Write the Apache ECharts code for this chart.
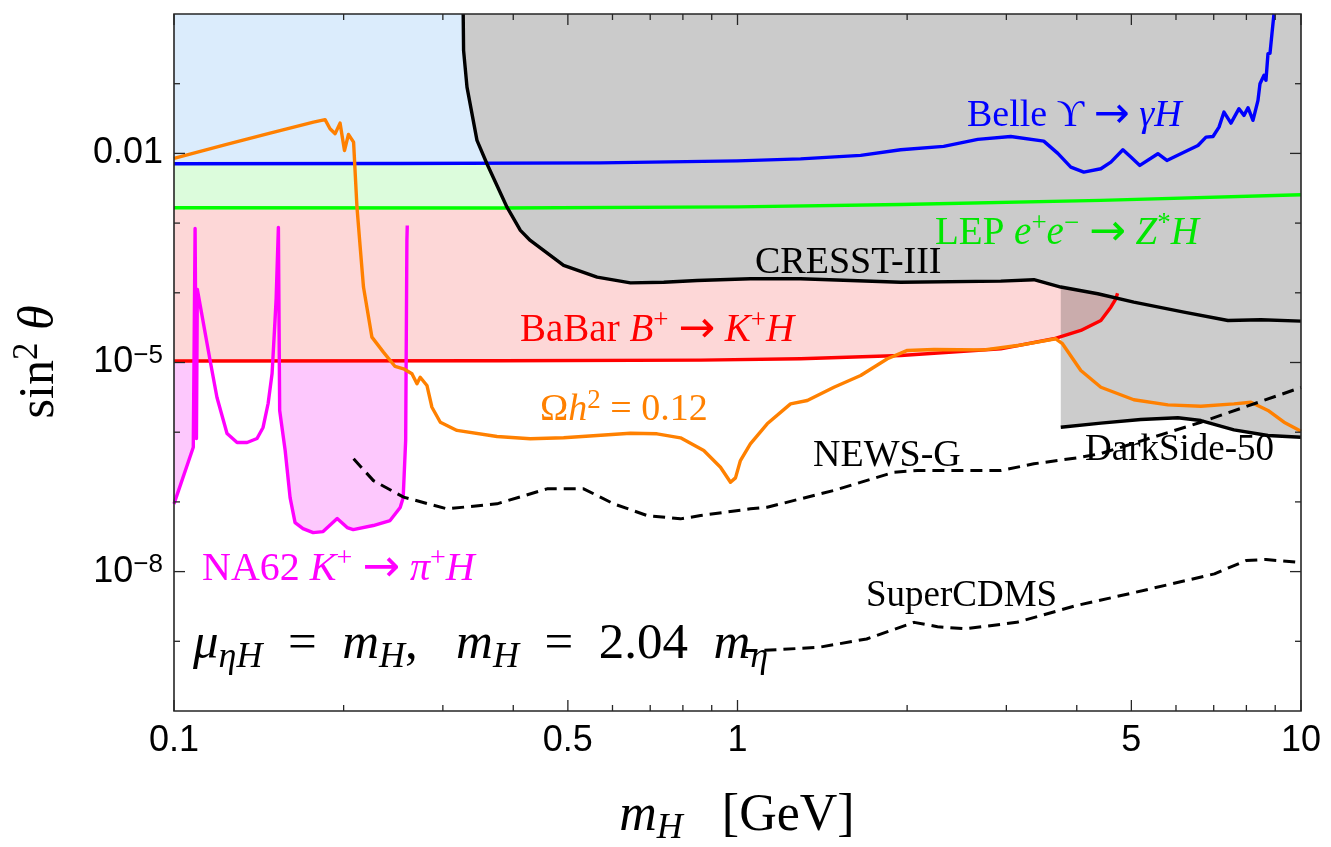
<!DOCTYPE html>
<html>
<head>
<meta charset="utf-8">
<script src="https://cdn.jsdelivr.net/npm/echarts@6/dist/echarts.min.js"></script>
<style>
  html, body { margin: 0; padding: 0; background: #ffffff; }
  #chart { width: 1331px; height: 847px; }
</style>
</head>
<body>
<div id="chart"></div>
<script>
// Axis ranges and tick values (log-log plot)
const X_RANGE = [0.1, 10];
const Y_RANGE = [1e-10, 1];
const X_MAJOR = [0.1, 0.5, 1, 5, 10];
const X_MAJOR_LABELS = ['0.1', '0.5', '1', '5', '10'];
const X_MINOR = [0.2, 0.3, 0.4, 0.6, 0.7, 0.8, 0.9, 2, 3, 4, 6, 7, 8, 9];
const Y_MAJOR = [1e-2, 1e-5, 1e-8];
const Y_MAJOR_LABELS = [['0.01', ''], ['10', '\u22125'], ['10', '\u22128']];
const Y_MINOR = [1e-1, 1e-3, 1e-4, 1e-6, 1e-7, 1e-9];

// Belle  Upsilon -> gamma H
const BELLE = [
  [0.1, 7.11e-3], [0.252, 7.18e-3], [0.571, 7.31e-3], [1.0, 7.8e-3], [1.294, 8.34e-3],
  [1.654, 9.36e-3], [1.948, 1.13e-2], [2.322, 1.26e-2], [2.669, 1.59e-2], [3.054, 1.75e-2],
  [3.495, 1.50e-2], [3.702, 1.00e-2], [3.904, 6.36e-3], [4.117, 5.39e-3], [4.414, 6.03e-3],
  [4.598, 7.50e-3], [4.830, 1.13e-2], [4.989, 8.85e-3], [5.176, 6.73e-3], [5.572, 9.90e-3],
  [5.781, 7.93e-3], [6.197, 1.04e-2], [6.564, 1.30e-2], [6.783, 1.71e-2], [6.980, 1.75e-2],
  [7.153, 2.38e-2], [7.300, 3.92e-2], [7.511, 2.72e-2], [7.761, 4.38e-2], [7.922, 3.51e-2],
  [8.053, 4.53e-2], [8.218, 2.98e-2], [8.388, 5.77e-2], [8.457, 0.100], [8.597, 0.132],
  [8.666, 0.112], [8.738, 0.270], [8.810, 0.272], [8.882, 0.528], [8.954, 1.0]
];

// LEP  e+e- -> Z* H
const LEP = [
  [0.1, 1.66e-3], [0.379, 1.65e-3], [1.0, 1.71e-3], [1.948, 1.85e-3], [4.414, 2.12e-3], [10, 2.55e-3]
];

// BaBar  B+ -> K+ H
const BABAR = [
  [0.1, 1.05e-5], [0.379, 1.06e-5], [0.86, 1.08e-5], [1.294, 1.13e-5], [1.948, 1.26e-5],
  [2.932, 1.57e-5], [3.641, 2.19e-5], [4.067, 2.88e-5], [4.414, 4.01e-5], [4.598, 6.22e-5],
  [4.693, 8.21e-5], [4.725, 9.88e-5]
];

// CRESST-III
const CRESST = [
  [0.326, 1], [0.3265, 0.301], [0.3311, 8.94e-2], [0.3449, 1.54e-2], [0.3592, 7.11e-3],
  [0.3899, 1.69e-3], [0.4118, 7.85e-4], [0.4288, 5.64e-4], [0.4914, 2.47e-4], [0.5634, 1.68e-4],
  [0.6457, 1.39e-4], [0.7397, 1.42e-4], [0.848, 1.50e-4], [1.054, 1.59e-4], [1.294, 1.59e-4],
  [1.948, 1.42e-4], [2.932, 1.47e-4], [3.357, 1.54e-4], [3.747, 1.21e-4], [4.359, 9.69e-5],
  [5.05, 7.34e-5], [6.197, 5.27e-5], [7.419, 4.01e-5], [8.492, 4.10e-5], [10, 3.92e-5]
];

// DarkSide-50
const DARKSIDE = [
  [3.747, 1.18e-6], [4.414, 1.35e-6], [5.197, 1.52e-6], [6.046, 1.61e-6], [6.643, 1.47e-6],
  [7.603, 1.08e-6], [8.738, 8.96e-7], [10, 8.47e-7]
];

// NA62  K+ -> pi+ H
const NA62 = [
  [0.1, 9.38e-8], [0.1082, 6.09e-7], [0.109, 8.39e-4], [0.1094, 8.39e-4], [0.1096, 8.11e-7],
  [0.110, 1.12e-4], [0.1108, 1.15e-4], [0.1159, 1.07e-5], [0.1192, 3.15e-6], [0.1242, 9.57e-7],
  [0.1294, 7.11e-7], [0.1348, 7.11e-7], [0.1404, 8.11e-7], [0.1439, 1.17e-6], [0.1469, 2.58e-6],
  [0.1493, 6.96e-6], [0.1511, 4.01e-5], [0.1518, 8.29e-5], [0.1532, 8.67e-4], [0.1536, 8.67e-4],
  [0.154, 2.05e-6], [0.1575, 5.46e-7], [0.1607, 1.15e-7], [0.164, 5.05e-8], [0.1694, 4.14e-8],
  [0.1766, 3.63e-8], [0.1839, 3.75e-8], [0.1948, 5.77e-8], [0.2029, 4.28e-8], [0.208, 4.01e-8],
  [0.2257, 4.58e-8], [0.2418, 5.40e-8], [0.252, 8.30e-8], [0.2551, 1.15e-7], [0.2577, 7.60e-7],
  [0.259, 5.64e-4], [0.2594, 9.26e-4]
];
// Mass windows where the NA62 bound is shaded
const NA62_SHADED = [[0.1, 0.109], [0.1536, 0.2594]];

// Relic abundance  Omega h^2 = 0.12
const RELIC = [
  [0.1, 8.48e-3], [0.124, 1.35e-2], [0.1481, 1.96e-2], [0.1768, 2.81e-2], [0.1854, 3.05e-2],
  [0.1892, 2.26e-2], [0.1932, 1.92e-2], [0.1971, 2.72e-2], [0.2007, 1.10e-2], [0.204, 1.87e-2],
  [0.2083, 1.45e-2], [0.2112, 1.69e-3], [0.214, 4.52e-4], [0.2169, 1.21e-4], [0.2245, 2.31e-5],
  [0.2353, 1.41e-5], [0.2468, 8.77e-6], [0.2555, 8.12e-6], [0.2644, 6.88e-6], [0.2699, 4.95e-6],
  [0.2735, 6.15e-6], [0.2811, 4.68e-6], [0.2869, 2.28e-6], [0.2969, 1.39e-6], [0.3178, 1.06e-6],
  [0.3743, 8.67e-7], [0.4288, 8.04e-7], [0.4914, 8.31e-7], [0.5634, 8.96e-7], [0.6457, 9.67e-7],
  [0.7199, 9.48e-7], [0.7922, 8.31e-7], [0.8712, 5.46e-7], [0.9328, 3.14e-7], [0.9718, 1.91e-7],
  [0.9918, 2.21e-7], [1.012, 3.92e-7], [1.054, 6.81e-7], [1.129, 1.32e-6], [1.242, 2.55e-6],
  [1.33, 2.85e-6], [1.483, 4.42e-6], [1.654, 6.51e-6], [1.845, 1.13e-5], [2.002, 1.49e-5],
  [2.232, 1.54e-5], [2.738, 1.52e-5], [3.14, 1.75e-5], [3.671, 2.19e-5], [3.773, 1.86e-5],
  [4.067, 7.68e-6], [4.414, 4.42e-6], [5.05, 2.92e-6], [5.805, 2.47e-6], [6.643, 2.36e-6],
  [7.603, 2.55e-6], [8.151, 2.69e-6], [8.738, 2.05e-6], [9.329, 1.39e-6], [10, 1.03e-6]
];

// NEWS-G projection
const NEWSG = [
  [0.2083, 4.15e-7], [0.2259, 2.02e-7], [0.2555, 1.17e-7], [0.305, 7.95e-8], [0.3743, 9.38e-8],
  [0.4592, 1.54e-7], [0.5333, 1.54e-7], [0.6031, 9.38e-8], [0.6912, 6.37e-8], [0.7922, 5.71e-8],
  [0.86, 6.37e-8], [1.054, 7.95e-8], [1.129, 8.38e-8], [1.483, 1.46e-7], [1.895, 2.66e-7],
  [2.085, 2.82e-7], [2.932, 2.82e-7], [3.357, 3.52e-7], [4.067, 4.37e-7], [4.414, 4.94e-7],
  [6.643, 1.39e-6], [10, 4.38e-6]
];

// SuperCDMS projection
const SUPERCDMS = [
  [1.033, 7.35e-10], [1.095, 7.35e-10], [1.395, 8.2e-10], [1.695, 1.08e-9], [2.058, 1.87e-9],
  [2.265, 1.62e-9], [2.538, 1.51e-9], [3.13, 1.87e-9], [3.99, 3.25e-9], [5.085, 5.05e-9],
  [7.022, 9.27e-9], [7.987, 1.44e-8], [8.666, 1.49e-8], [10, 1.35e-8]
];

const SERIF = "'Liberation Serif', 'Times New Roman', 'DejaVu Serif', serif";
const SANS = "'Liberation Sans', Arial, Helvetica, sans-serif";
const ARROW_FONT = "'DejaVu Sans', 'Liberation Sans', sans-serif";
const FRAME = '#262626';

// Rich-text styles for math-like labels
function mathRich(S) {
  const L = Math.round(S * 1.2);
  const s = Math.round(S * 0.7);
  return {
    r: { fontFamily: SERIF, fontSize: S, lineHeight: L },
    i: { fontFamily: SERIF, fontStyle: 'italic', fontSize: S, lineHeight: L },
    a: { fontFamily: ARROW_FONT, fontSize: Math.round(S * 1.12), lineHeight: L },
    sup: { fontFamily: SERIF, fontSize: s, lineHeight: Math.round(S * 0.36), verticalAlign: 'top' },
    sub: { fontFamily: SERIF, fontStyle: 'italic', fontSize: s, lineHeight: Math.round(S * 0.75), verticalAlign: 'bottom' }
  };
}

// Shaded exclusion region: boundary curve closed against the top of the plot
function fillSeries(name, pts, color, z) {
  return {
    type: 'custom', name: name, z: z, silent: true, clip: true,
    data: pts,
    renderItem: function (params, api) {
      if (params.dataIndex !== 0) return null;
      const poly = pts.map(function (p) { return api.coord(p); });
      poly.push(api.coord([pts[pts.length - 1][0], Y_RANGE[1]]));
      poly.push(api.coord([pts[0][0], Y_RANGE[1]]));
      return { type: 'polygon', shape: { points: poly }, style: { fill: color } };
    }
  };
}

function lineSeries(name, pts, color, z, dashed) {
  return {
    type: 'line', name: name, data: pts, z: z, silent: true,
    showSymbol: false, symbol: 'none', clip: true,
    lineStyle: { color: color, width: dashed ? 3 : 3.4, type: dashed ? [12, 7] : 'solid', join: 'round' }
  };
}

function seg(x1, y1, x2, y2) {
  return { type: 'line', shape: { x1: x1, y1: y1, x2: x2, y2: y2 }, style: { stroke: FRAME, lineWidth: 1.3 } };
}

// Ticks on all four sides, labels on bottom and left, plus the plot frame
function tickSeries(dir) {
  const major = dir === 'x' ? X_MAJOR : Y_MAJOR;
  const minor = dir === 'x' ? X_MINOR : Y_MINOR;
  const all = major.concat(minor);
  return {
    type: 'custom', z: 30, silent: true, clip: false,
    data: all.map(function (v) { return dir === 'x' ? [v, Y_RANGE[0]] : [X_RANGE[0], v]; }),
    renderItem: function (params, api) {
      const i = params.dataIndex;
      const v = all[i];
      const isMajor = i < major.length;
      const len = isMajor ? 11 : 6;
      const kids = [];
      if (dir === 'x') {
        const b = api.coord([v, Y_RANGE[0]]);
        const t = api.coord([v, Y_RANGE[1]]);
        kids.push(seg(b[0], b[1], b[0], b[1] - len), seg(t[0], t[1], t[0], t[1] + len));
        if (isMajor) {
          kids.push({
            type: 'text',
            style: {
              text: X_MAJOR_LABELS[i], x: b[0], y: b[1] + 30,
              align: 'center', verticalAlign: 'middle',
              fontFamily: SANS, fontSize: 36, fill: '#000'
            }
          });
        }
        if (i === 0) {
          const tl = api.coord([X_RANGE[0], Y_RANGE[1]]);
          const br = api.coord([X_RANGE[1], Y_RANGE[0]]);
          kids.push({
            type: 'rect',
            shape: { x: tl[0], y: tl[1], width: br[0] - tl[0], height: br[1] - tl[1] },
            style: { fill: 'none', stroke: FRAME, lineWidth: 1.6 }
          });
        }
      } else {
        const l = api.coord([X_RANGE[0], v]);
        const r = api.coord([X_RANGE[1], v]);
        kids.push(seg(l[0], l[1], l[0] + len, l[1]), seg(r[0], r[1], r[0] - len, r[1]));
        if (isMajor) {
          const lab = Y_MAJOR_LABELS[i];
          kids.push({
            type: 'text',
            style: {
              text: '{b|' + lab[0] + '}' + (lab[1] ? '{s|' + lab[1] + '}' : ''),
              x: l[0] - 11, y: l[1],
              align: 'right', verticalAlign: 'middle', fill: '#000',
              rich: {
                b: { fontFamily: SANS, fontSize: 36, lineHeight: 40 },
                s: { fontFamily: SANS, fontSize: 26, lineHeight: 24, verticalAlign: 'top' }
              }
            }
          });
        }
      }
      return { type: 'group', children: kids };
    }
  };
}

function note(x, y, text, color, size, opts) {
  opts = opts || {};
  return {
    type: 'text', x: x, y: y, z: 50, silent: true, rotation: opts.rotation || 0,
    style: {
      text: text, fill: color, align: opts.align || 'left', verticalAlign: 'middle',
      fontFamily: SERIF, fontSize: size, rich: mathRich(size)
    }
  };
}

const na62Fills = NA62_SHADED.map(function (rng, k) {
  const pts = NA62.filter(function (p) { return p[0] >= rng[0] && p[0] <= rng[1]; });
  return fillSeries('NA62 region ' + k, pts, '#fdc8fd', 1);
});

const chart = echarts.init(document.getElementById('chart'), null, { renderer: 'canvas' });

chart.setOption({
  animation: false,
  backgroundColor: '#ffffff',
  grid: { left: 174, right: 30, top: 14, bottom: 136, show: false },
  xAxis: {
    type: 'log', logBase: 10, min: X_RANGE[0], max: X_RANGE[1],
    axisLine: { show: false }, axisTick: { show: false },
    axisLabel: { show: false }, splitLine: { show: false }
  },
  yAxis: {
    type: 'log', logBase: 10, min: Y_RANGE[0], max: Y_RANGE[1],
    axisLine: { show: false }, axisTick: { show: false },
    axisLabel: { show: false }, splitLine: { show: false }
  },
  series: na62Fills.concat([
    fillSeries('BaBar region', BABAR, '#fdd7d7', 2),
    fillSeries('LEP region', LEP, '#dcfcdc', 3),
    fillSeries('Belle region', BELLE, '#dbecfc', 4),
    fillSeries('DarkSide-50 region', DARKSIDE, 'rgba(0,0,0,0.2)', 5),
    fillSeries('CRESST-III region', CRESST, '#cbcbcb', 6),

    lineSeries('Belle', BELLE, '#0000ff', 10),
    lineSeries('LEP', LEP, '#00ff00', 10),
    lineSeries('BaBar', BABAR, '#ff0000', 11),
    lineSeries('CRESST-III', CRESST, '#000000', 12),
    lineSeries('DarkSide-50', DARKSIDE, '#000000', 12),
    lineSeries('NA62', NA62, '#ff00ff', 13),
    lineSeries('Relic', RELIC, '#ff8000', 14),
    lineSeries('NEWS-G', NEWSG, '#000000', 15, true),
    lineSeries('SuperCDMS', SUPERCDMS, '#000000', 15, true),

    tickSeries('x'),
    tickSeries('y')
  ]),
  graphic: [
    note(967, 116, '{r|Belle \u03D2 }{a|\u2192}{r| }{i|\u03B3H}', '#0000ff', 38),
    note(935, 234, '{r|LEP }{i|e}{sup|+}{i|e}{sup|\u2212}{r| }{a|\u2192}{r| }{i|Z}{sup|*}{i|H}', '#00e600', 39),
    note(755, 263, '{r|CRESST-III}', '#000000', 38),
    note(520, 331, '{r|BaBar }{i|B}{sup|+}{r| }{a|\u2192}{r| }{i|K}{sup|+}{i|H}', '#ff0000', 39),
    note(540, 410, '{r|\u03A9}{i|h}{sup|2}{r| = 0.12}', '#ff8000', 38),
    note(813, 456, '{r|NEWS-G}', '#000000', 38),
    note(1085, 450, '{r|DarkSide-50}', '#000000', 37),
    note(866, 596, '{r|SuperCDMS}', '#000000', 37),
    note(202, 569, '{r|NA62 }{i|K}{sup|+}{r| }{a|\u2192}{r| }{i|\u03C0}{sup|+}{i|H}', '#ff00ff', 40),
    note(193, 645, '{i|\u03BC}{sub|\u03B7H}{r|  =  }{i|m}{sub|H}{r|,   }{i|m}{sub|H}{r|  =  2.04  }{i|m}{sub|\u03B7}', '#000000', 51),
    note(737, 816, '{i|m}{sub|H}{r|   [GeV]}', '#000000', 52, { align: 'center' }),
    note(40, 362, '{r|sin}{sup|2}{r| }{i|\u03B8}', '#000000', 50, { align: 'center', rotation: Math.PI / 2 })
  ]
});
</script>
</body>
</html>
